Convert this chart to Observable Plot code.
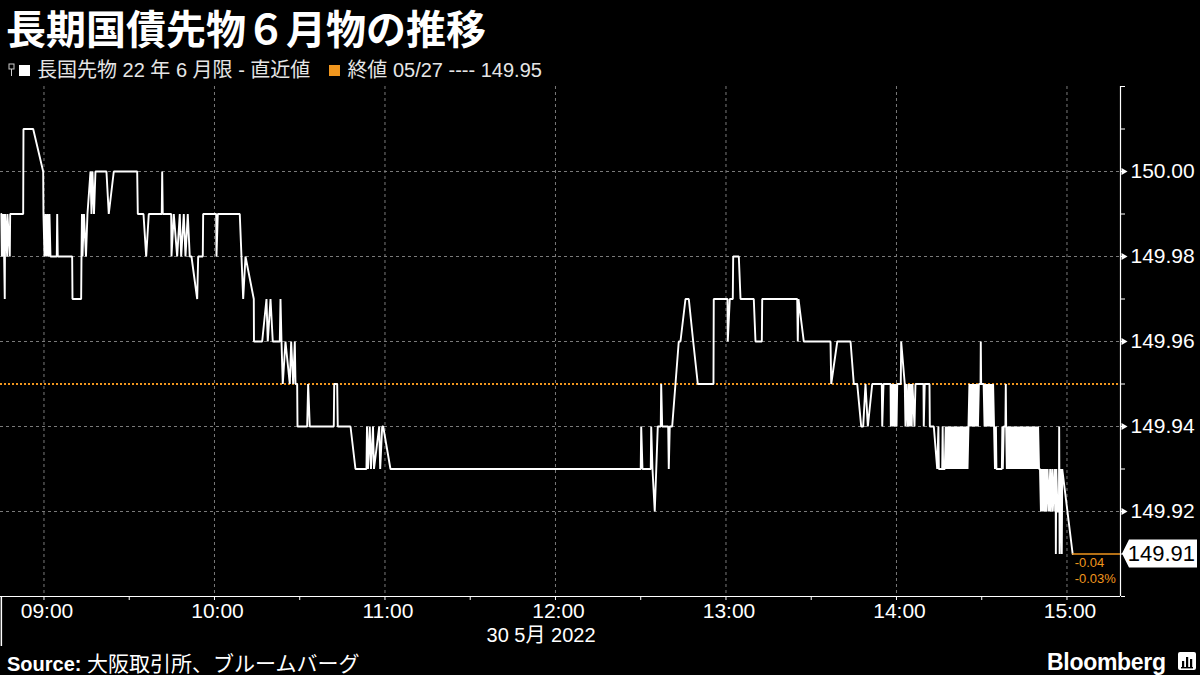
<!DOCTYPE html>
<html>
<head>
<meta charset="utf-8">
<script src="https://cdn.jsdelivr.net/npm/d3@7"></script>
<script src="https://cdn.jsdelivr.net/npm/@observablehq/plot@0.6"></script>
<style>
html,body{margin:0;padding:0;background:#000;width:1200px;height:675px;overflow:hidden;}
body{font-family:"Liberation Sans","Noto Sans CJK JP",sans-serif;color:#fff;}
#title{height:52px;box-sizing:border-box;padding:2px 0 0 6px;font-family:"Noto Sans CJK JP",sans-serif;font-weight:700;font-size:40px;line-height:50px;white-space:nowrap;}
#legend{height:28px;box-sizing:border-box;padding:8px 0 0 8px;font-size:20px;line-height:20px;color:#e6e6e6;display:flex;align-items:center;white-space:nowrap;}
#legend .sq{display:inline-block;width:11px;height:11px;margin-right:7px;}
#chart{height:570px;}
#chart svg{display:block;}
#footer{height:25px;position:relative;}
#src{position:absolute;left:7px;top:0;font-size:20px;line-height:25px;white-space:nowrap;}
#src b{font-family:"Liberation Sans",sans-serif;font-weight:700;}
#src span{font-family:"Noto Sans CJK JP",sans-serif;font-size:21px;}
#logo{position:absolute;left:1047px;top:0;font-family:"Liberation Sans",sans-serif;font-weight:700;font-size:23px;line-height:25px;letter-spacing:-0.3px;}
#logoicon{position:absolute;left:1178px;top:2px;}
</style>
</head>
<body>
<div id="title">長期国債先物６月物の推移</div>
<div id="legend">
  <svg width="8" height="14" style="margin-right:3px"><rect x="1" y="1" width="5" height="5" fill="none" stroke="#ccc" stroke-width="1"/><line x1="3.5" y1="6" x2="3.5" y2="13" stroke="#ccc" stroke-width="1"/></svg>
  <span class="sq" style="background:#fff"></span><span id="seriesName"></span>
  <span class="sq" style="background:#f0961e;margin-left:19px"></span><span id="closeName"></span>
</div>
<div id="chart"></div>
<div id="footer">
  <div id="src"><b>Source:</b> <span>大阪取引所、ブルームバーグ</span></div>
  <div id="logo">Bloomberg</div>
  <svg id="logoicon" width="18" height="18"><rect x="0" y="0" width="18" height="18" rx="2" fill="#fff"/><rect x="4" y="9" width="2.2" height="6" fill="#000"/><rect x="8" y="5" width="2.2" height="10" fill="#000"/><rect x="12" y="7" width="2.2" height="8" fill="#000"/><rect x="3" y="15" width="12" height="1.4" fill="#000"/></svg>
</div>
<script>
// ---- data ----
const tradeDate = "2022-05-30";
const seriesLabel = "長国先物 22 年 6 月限 - 直近値";
const closeLabel = "終値 05/27 ---- 149.95";
const prevClose = 149.95;
const dateLabel = "30 5月 2022";
const xDomain = ["08:44:42", "15:18:50"];
const xTicksHour = ["09:00","10:00","11:00","12:00","13:00","14:00","15:00"];
const xTicksHalf = ["09:30","10:30","11:30","12:30","13:30","14:30"];
const yTicksMinor = [149.90,149.91,149.92,149.93,149.94,149.95,149.96,149.97,149.98,149.99,150.00,150.01,150.02];
const yTicksMajor = [149.92,149.94,149.96,149.98,150.00];
const yDomain = [149.90, 150.02];

// morning session [time, price]
const morningTicks = [
["08:45:00",149.99],["08:45:10",149.98],["08:45:17",149.99],["08:45:38",149.98],["08:45:45",149.99],
["08:46:12",149.97],["08:46:20",149.99],["08:47:03",149.98],["08:47:09",149.99],["08:47:58",149.98],
["08:48:06",149.99],["08:52:41",149.99],["08:52:47",150.01],["08:56:12",150.01],["08:59:43",150.00],
["08:59:49",149.99],["09:00:11",149.98],["09:00:32",149.99],["09:00:53",149.98],["09:01:14",149.99],
["09:01:35",149.98],["09:01:56",149.99],["09:02:17",149.98],["09:04:30",149.98],["09:04:39",149.99],
["09:04:51",149.98],["09:09:55",149.98],["09:10:02",149.97],["09:13:05",149.97],["09:13:12",149.98],
["09:13:22",149.99],["09:13:33",149.98],["09:14:04",149.99],["09:14:47",149.98],["09:15:18",149.99],
["09:16:22",150.00],["09:16:43",149.99],["09:17:04",150.00],["09:17:36",149.99],["09:18:07",150.00],
["09:21:59",150.00],["09:22:48",149.99],["09:24:34",150.00],["09:32:48",150.00],["09:33:01",149.99],
["09:35:01",149.99],["09:35:58",149.98],["09:36:53",149.99],["09:41:27",149.99],["09:41:36",150.00],
["09:41:48",149.99],["09:44:46",149.99],["09:44:52",149.98],["09:45:41",149.99],["09:46:52",149.98],
["09:47:47",149.99],["09:48:17",149.98],["09:49:12",149.99],["09:49:48",149.98],["09:50:36",149.99],
["09:51:18",149.98],["09:51:54",149.98],["09:53:55",149.97],["09:54:16",149.98],["09:55:53",149.98],
["09:56:01",149.99],["10:00:36",149.99],["10:00:42",149.98],["10:01:10",149.99],["10:08:54",149.99],
["10:10:06",149.97],["10:10:55",149.98],["10:13:50",149.97],["10:13:54",149.96],["10:16:47",149.96],
["10:18:18",149.97],["10:18:45",149.96],["10:19:43",149.97],["10:20:31",149.96],["10:22:59",149.96],
["10:23:14",149.97],["10:23:35",149.96],["10:24:02",149.95],["10:24:59",149.96],["10:26:30",149.95],
["10:26:59",149.96],["10:27:42",149.95],["10:28:16",149.96],["10:28:31",149.95],["10:29:06",149.95],
["10:29:13",149.94],["10:32:37",149.94],["10:32:58",149.95],["10:33:32",149.94],["10:41:59",149.94],
["10:42:08",149.95],["10:43:11",149.95],["10:43:23",149.94],["10:47:52",149.94],["10:49:37",149.93],
["10:53:29",149.93],["10:53:40",149.94],["10:54:01",149.93],["10:54:39",149.94],["10:55:04",149.93],
["10:55:47",149.94],["10:56:08",149.93],["10:57:58",149.94],["10:58:19",149.93],["10:59:01",149.94],
["10:59:22",149.94],["11:01:56",149.93],["11:02:00",149.93]
];

// afternoon session [time, price]
const afternoonTicks = [
["12:30:00",149.93],["12:30:10",149.94],["12:30:37",149.93],["12:33:32",149.93],["12:33:41",149.94],
["12:34:08",149.93],["12:34:56",149.92],["12:36:00",149.94],["12:37:03",149.94],["12:37:12",149.95],
["12:37:33",149.94],["12:39:40",149.94],["12:39:52",149.93],["12:40:13",149.94],["12:41:04",149.94],
["12:43:23",149.96],["12:43:59",149.96],["12:45:45",149.97],["12:46:55",149.97],["12:48:28",149.96],
["12:50:05",149.95],["12:55:36",149.95],["12:55:42",149.97],["13:00:32",149.97],["13:00:38",149.96],
["13:01:20",149.97],["13:02:24",149.97],["13:02:32",149.98],["13:04:31",149.98],["13:05:07",149.97],
["13:09:47",149.97],["13:10:23",149.96],["13:12:37",149.96],["13:12:45",149.97],["13:25:04",149.97],
["13:25:16",149.96],["13:25:31",149.97],["13:27:23",149.96],["13:36:47",149.96],["13:37:02",149.95],
["13:39:10",149.96],["13:43:50",149.96],["13:44:59",149.95],["13:46:11",149.95],["13:47:35",149.94],
["13:48:17",149.94],["13:49:06",149.95],["13:49:55",149.94],["13:51:28",149.95],["13:54:50",149.95],
["13:54:59",149.94],["13:55:26",149.95],["13:57:55",149.95],["13:58:01",149.94],["13:58:22",149.95],
["13:58:43",149.94],["13:59:04",149.95],["13:59:19",149.94],["13:59:40",149.95],["14:00:01",149.94],
["14:00:16",149.95],["14:01:31",149.95],["14:01:39",149.96],["14:02:55",149.95],["14:03:10",149.94],
["14:03:31",149.95],["14:03:58",149.94],["14:04:19",149.95],["14:04:40",149.94],["14:05:01",149.95],
["14:05:22",149.94],["14:05:37",149.95],["14:06:20",149.94],["14:06:41",149.95],["14:09:30",149.95],
["14:09:36",149.94],["14:09:57",149.95],["14:11:37",149.95],["14:11:44",149.94],["14:13:08",149.94],
["14:14:20",149.93],["14:14:45",149.94],["14:14:55",149.93],["14:16:05",149.93],["14:16:15",149.94],
["14:16:25",149.93],["14:17:00",149.93],["14:17:20",149.94],["14:17:40",149.93],["14:18:00",149.94],
["14:18:20",149.93],["14:18:40",149.94],["14:19:00",149.93],["14:19:20",149.94],["14:19:40",149.93],
["14:20:00",149.94],["14:20:20",149.93],["14:20:40",149.94],["14:21:00",149.93],["14:21:20",149.94],
["14:21:40",149.93],["14:22:00",149.94],["14:22:20",149.93],["14:22:40",149.94],["14:23:00",149.93],
["14:23:20",149.94],["14:23:40",149.93],["14:24:00",149.94],["14:24:20",149.93],["14:24:40",149.94],
["14:25:00",149.93],["14:25:20",149.94],["14:25:40",149.95],["14:26:00",149.94],["14:26:20",149.95],
["14:26:40",149.94],["14:27:00",149.95],["14:27:20",149.94],["14:27:40",149.95],["14:28:00",149.94],
["14:28:20",149.95],["14:28:40",149.94],["14:29:00",149.95],["14:29:35",149.95],["14:29:40",149.96],
["14:29:48",149.95],["14:30:40",149.95],["14:31:00",149.94],["14:31:20",149.95],["14:31:40",149.94],
["14:32:00",149.95],["14:32:20",149.94],["14:32:40",149.95],["14:33:00",149.94],["14:33:20",149.95],
["14:33:40",149.94],["14:34:00",149.95],["14:34:20",149.94],["14:34:40",149.93],["14:35:00",149.94],
["14:35:10",149.93],["14:37:05",149.93],["14:37:15",149.94],["14:37:25",149.93],["14:37:45",149.94],
["14:38:20",149.94],["14:38:28",149.95],["14:38:36",149.94],["14:38:50",149.93],["14:39:10",149.94],
["14:39:30",149.93],["14:39:50",149.94],["14:40:10",149.93],["14:40:30",149.94],["14:40:50",149.93],
["14:41:10",149.94],["14:41:30",149.93],["14:41:50",149.94],["14:42:10",149.93],["14:42:30",149.94],
["14:42:50",149.93],["14:43:10",149.94],["14:43:30",149.93],["14:43:50",149.94],["14:44:10",149.93],
["14:44:30",149.94],["14:44:50",149.93],["14:45:10",149.94],["14:45:30",149.93],["14:45:50",149.94],
["14:46:10",149.93],["14:46:30",149.94],["14:46:50",149.93],["14:47:10",149.94],["14:47:30",149.93],
["14:47:50",149.94],["14:48:10",149.93],["14:48:30",149.94],["14:48:50",149.93],["14:49:10",149.94],
["14:49:30",149.93],["14:49:50",149.94],["14:50:10",149.93],["14:50:30",149.93],["14:50:50",149.92],
["14:51:10",149.93],["14:51:30",149.92],["14:51:50",149.93],["14:52:10",149.92],["14:52:30",149.93],
["14:52:50",149.92],["14:53:10",149.93],["14:53:40",149.92],["14:54:05",149.93],["14:54:15",149.92],
["14:54:50",149.93],["14:55:00",149.92],["14:55:40",149.93],["14:55:50",149.92],["14:56:00",149.93],
["14:56:05",149.91],["14:56:15",149.93],["14:56:40",149.92],["14:57:10",149.92],["14:57:15",149.94],
["14:57:25",149.91],["14:57:40",149.93],["14:58:00",149.92],["14:58:10",149.91],["14:58:20",149.93],
["15:02:00",149.91]
];

// ---- build ----
const orange = "#f0961e";
const T = s => new Date(tradeDate + "T" + (s.length === 5 ? s + ":00" : s) + "Z");
const ticks = morningTicks.concat(afternoonTicks).map(([t, p]) => ({t: T(t), p}));
const last = ticks[ticks.length - 1];
const first = ticks[0];
const xStart = T(xDomain[0]), xEnd = T(xDomain[1]);
const hourDates = xTicksHour.map(T);
const halfDates = xTicksHalf.map(T).concat(hourDates);
const chg = last.p - prevClose;
const chgAbs = [{t: last.t, p: last.p, s: d3.format("+.2f")(chg).replace("−", "-")}];
const chgPct = [{t: last.t, p: last.p, s: d3.format("+.2f")(chg / prevClose * 100).replace("−", "-") + "%"}];
const midDate = new Date((first.t.getTime() + last.t.getTime()) / 2);
const fmtHM = d3.utcFormat("%H:%M");

document.getElementById("seriesName").textContent = seriesLabel;
document.getElementById("closeName").textContent = closeLabel;

function priceTag(index, scales, values, dimensions) {
  const y = scales.y(last.p);
  const x0 = dimensions.width - dimensions.marginRight;
  const g = d3.create("svg:g");
  g.append("path")
    .attr("d", `M${x0 + 2},${y}L${x0 + 9},${y - 14}H${x0 + 77}V${y + 14}H${x0 + 9}Z`)
    .attr("fill", "#fff");
  g.append("text")
    .attr("x", x0 + 75).attr("y", y).attr("dy", "0.36em")
    .attr("text-anchor", "end").attr("fill", "#000")
    .attr("font-size", 22).attr("font-family", "Liberation Sans, sans-serif")
    .text(last.p.toFixed(2));
  return g.node();
}

const grid = {stroke: "#7a7a7a", strokeOpacity: 1, strokeWidth: 1, strokeDasharray: "3,3"};

const chart = Plot.plot({
  width: 1200,
  height: 570,
  marginTop: 6,
  marginBottom: 54,
  marginLeft: 0,
  marginRight: 80,
  style: {background: "#000", color: "#fff", fontFamily: "Liberation Sans, Noto Sans CJK JP, sans-serif", fontSize: "21px", overflow: "visible"},
  x: {type: "utc", domain: [xStart, xEnd], label: null},
  y: {domain: yDomain, label: null},
  marks: [
    Plot.gridY(yTicksMajor, grid),
    Plot.gridX(hourDates, grid),
    Plot.ruleY([prevClose], {stroke: orange, strokeWidth: 2, strokeDasharray: "2,2"}),
    Plot.line(ticks, {x: "t", y: "p", stroke: "#fff", strokeWidth: 1.9, strokeLinejoin: "miter"}),
    Plot.ruleY([last], {y: "p", x1: "t", x2: () => xEnd, stroke: orange, strokeWidth: 1.5}),
    Plot.ruleY([yDomain[0]], {stroke: "#fff", strokeWidth: 1.2}),
    Plot.ruleX([xEnd], {stroke: "#fff", strokeWidth: 1.2}),
    Plot.ruleX([first], {x: "t", stroke: "#fff", strokeWidth: 1.5, insetTop: 510, insetBottom: -50}),
    Plot.axisX(halfDates, {tickSize: 4, tickFormat: () => "", stroke: "#fff", label: null}),
    Plot.axisX(hourDates, {tickSize: 0, tickPadding: 7, dx: 3, tickFormat: fmtHM, fill: "#fff", fontSize: 21, label: null}),
    Plot.axisY(yTicksMinor, {anchor: "right", tickSize: 4, tickPadding: 6, stroke: "#fff", fill: "#fff", fontSize: 21,
      tickFormat: d => yTicksMajor.includes(d) ? d.toFixed(2) : "", label: null}),
    Plot.dot(yTicksMajor, {y: d => d, frameAnchor: "right", dx: 3, symbol: "triangle", rotate: 90, r: 2.6, fill: "#fff", stroke: null}),
    Plot.text([{t: midDate, s: dateLabel}], {x: "t", text: "s", frameAnchor: "bottom", dy: 45, dx: 4, fill: "#fff", fontSize: 20}),
    Plot.text(chgAbs, {x: "t", y: "p", text: "s", dy: 9, dx: 2, textAnchor: "start", fill: orange, fontSize: 13}),
    Plot.text(chgPct, {x: "t", y: "p", text: "s", dy: 25, dx: 2, textAnchor: "start", fill: orange, fontSize: 13}),
    priceTag
  ]
});
document.getElementById("chart").appendChild(chart);
</script>
</body>
</html>
